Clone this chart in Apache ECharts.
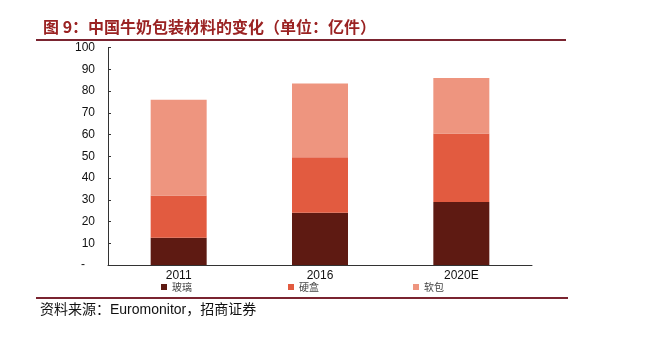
<!DOCTYPE html>
<html><head><meta charset="utf-8">
<script src="https://cdn.jsdelivr.net/npm/echarts@6/dist/echarts.min.js"></script>
<style>html,body{margin:0;padding:0;background:#fff}#c{width:646px;height:353px}</style>
</head><body><div id="c"></div>
<script>
const categories = ['2011', '2016', '2020E'];
const seriesNames = ['玻璃', '硬盒', '软包'];
const glass = [12.5, 24, 29];
const hardBox = [19.5, 25.5, 31.5];
const softPack = [44, 34, 25.5];
const yTicks = [0, 10, 20, 30, 40, 50, 60, 70, 80, 90, 100];
const colors = ['#5E1A12', '#E25B40', '#EE957F'];

const chart = echarts.init(document.getElementById('c'));
const values = [glass, hardBox, softPack];
const legendLefts = [161, 288, 413];
chart.setOption({
  animation: false,
  backgroundColor: '#fff',
  title: {
    text: '图 9：中国牛奶包装材料的变化（单位：亿件）',
    left: 38, top: 14,
    textStyle: { color: '#9A2222', fontSize: 16, fontWeight: 'bold', fontFamily: 'Noto Sans CJK SC' }
  },
  graphic: [
    { type: 'line', shape: { x1: 36, y1: 40, x2: 566, y2: 40 }, style: { stroke: '#7A2430', lineWidth: 2 } },
    { type: 'line', shape: { x1: 36, y1: 298, x2: 568, y2: 298 }, style: { stroke: '#7A2430', lineWidth: 2 } },
    { type: 'text', left: 40, top: 303, style: { text: '资料来源：Euromonitor，招商证券', fill: '#111', fontSize: 14, fontFamily: 'Liberation Sans, Noto Sans CJK SC' } }
  ],
  legend: seriesNames.map((n, i) => ({
    data: [n], left: legendLefts[i], top: 282, itemWidth: 6, itemHeight: 6, itemGap: 4, padding: 0,
    icon: 'rect', textStyle: { fontSize: 10, color: '#444', fontFamily: 'Noto Sans CJK SC' }
  })),
  grid: { left: 108, right: 114, top: 47.5, bottom: 88 },
  xAxis: {
    type: 'category', data: categories,
    axisLine: { lineStyle: { color: '#333', width: 1 } },
    axisTick: { inside: true, length: 4, lineStyle: { color: '#333' } },
    axisLabel: { color: '#111', fontSize: 12, fontFamily: 'Liberation Sans', margin: 5 }
  },
  yAxis: {
    type: 'value', min: yTicks[0], max: yTicks[yTicks.length - 1], interval: 10,
    axisLine: { show: true, lineStyle: { color: '#333', width: 1 } },
    axisTick: { show: true, inside: true, length: 3, lineStyle: { color: '#333' } },
    splitLine: { show: false },
    axisLabel: { color: '#111', fontSize: 12, fontFamily: 'Liberation Sans', margin: 13,
      formatter: v => v === 0 ? '-   ' : String(v) }
  },
  series: seriesNames.map((n, i) => ({
    name: n, type: 'bar', stack: 'total', data: values[i], barWidth: 56,
    itemStyle: { color: colors[i] }
  }))
});
</script></body></html>
